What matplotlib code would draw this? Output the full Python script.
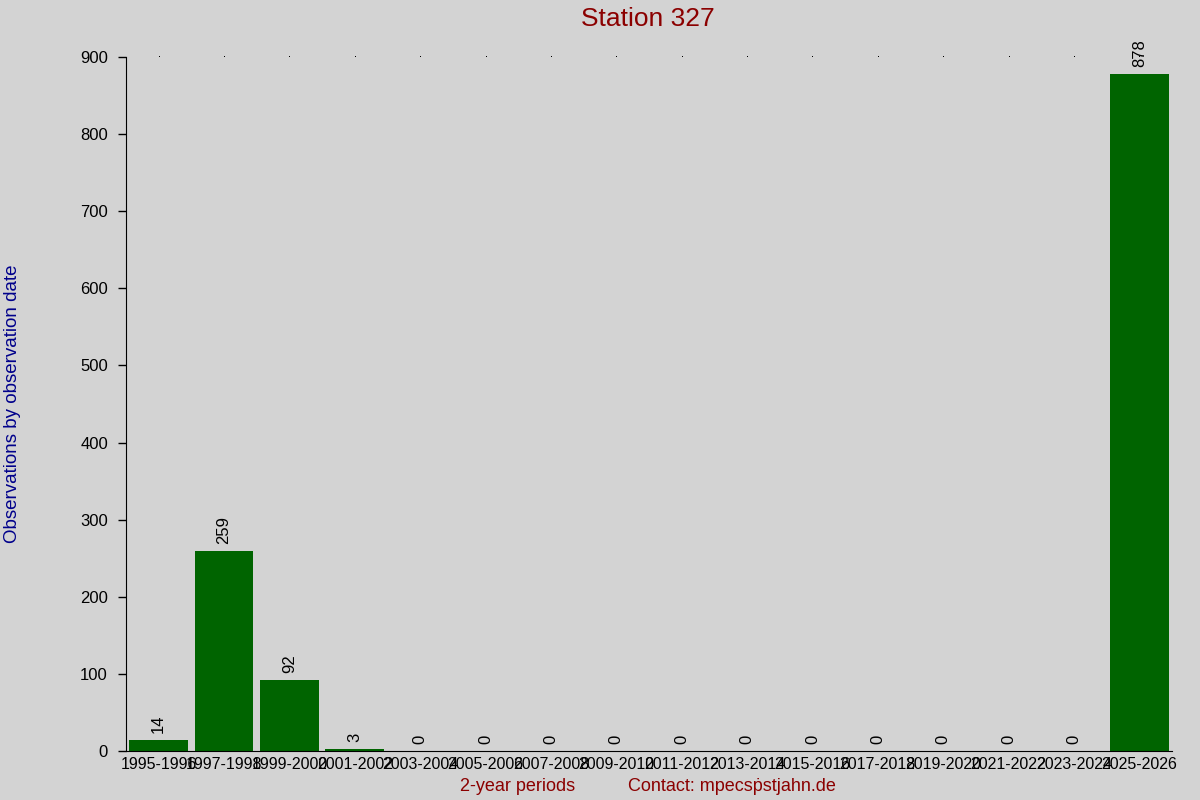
import numpy as np
import matplotlib.pyplot as plt

plt.rcParams['font.family'] = ['Liberation Sans', 'DejaVu Sans']

periods = ['1995-1996', '1997-1998', '1999-2000', '2001-2002', '2003-2004',
           '2005-2006', '2007-2008', '2009-2010', '2011-2012', '2013-2014',
           '2015-2016', '2017-2018', '2019-2020', '2021-2022', '2023-2024',
           '2025-2026']
counts = [14, 259, 92, 3, 0, 0, 0, 0, 0, 0, 0, 0, 0, 0, 0, 878]

bg = '#d3d3d3'
fig = plt.figure(figsize=(12, 8), dpi=100, facecolor=bg)
ax = fig.add_axes([0.105, 0.06125, 0.8717, 0.8675], facecolor=bg)

x = np.arange(len(periods))
ax.bar(x, counts, width=0.9, color='#006400')

# kleine Punkte oben an jeder Balkenposition
ax.plot(x, [900] * len(x), linestyle='none', marker=',',
        color='black', clip_on=False)

for xi, c in zip(x, counts):
    ax.annotate(str(c), (xi, c), xytext=(0, 5), textcoords='offset points',
                rotation=90, ha='center', va='bottom', fontsize=12,
                color='black')

ax.set_xlim(-0.5, 15.5)
ax.set_ylim(0, 900)
ax.set_yticks(range(0, 901, 100))
ax.set_xticks(x)
ax.set_xticklabels(periods, fontsize=11.5)
ax.tick_params(axis='x', length=0, pad=4.5)
ax.tick_params(axis='y', length=6, width=1, labelsize=12, pad=7)

ax.spines['top'].set_visible(False)
ax.spines['right'].set_visible(False)

fig.text(0.54, 0.976, 'Station 327', ha='center', va='center',
         fontsize=19, color='#8b0000')
ax.set_ylabel('Observations by observation date', fontsize=13.5,
              color='#00008b', labelpad=0)
ax.yaxis.set_label_coords(-0.1, 0.5)
fig.text(0.431, 0.017, '2-year periods', ha='center', va='center',
         fontsize=13, color='#8b0000')
fig.text(0.61, 0.017, 'Contact: mpecs\u1e57stjahn.de', ha='center', va='center',
         fontsize=13, color='#8b0000')

fig.savefig('out.png', dpi=100, facecolor=bg)
